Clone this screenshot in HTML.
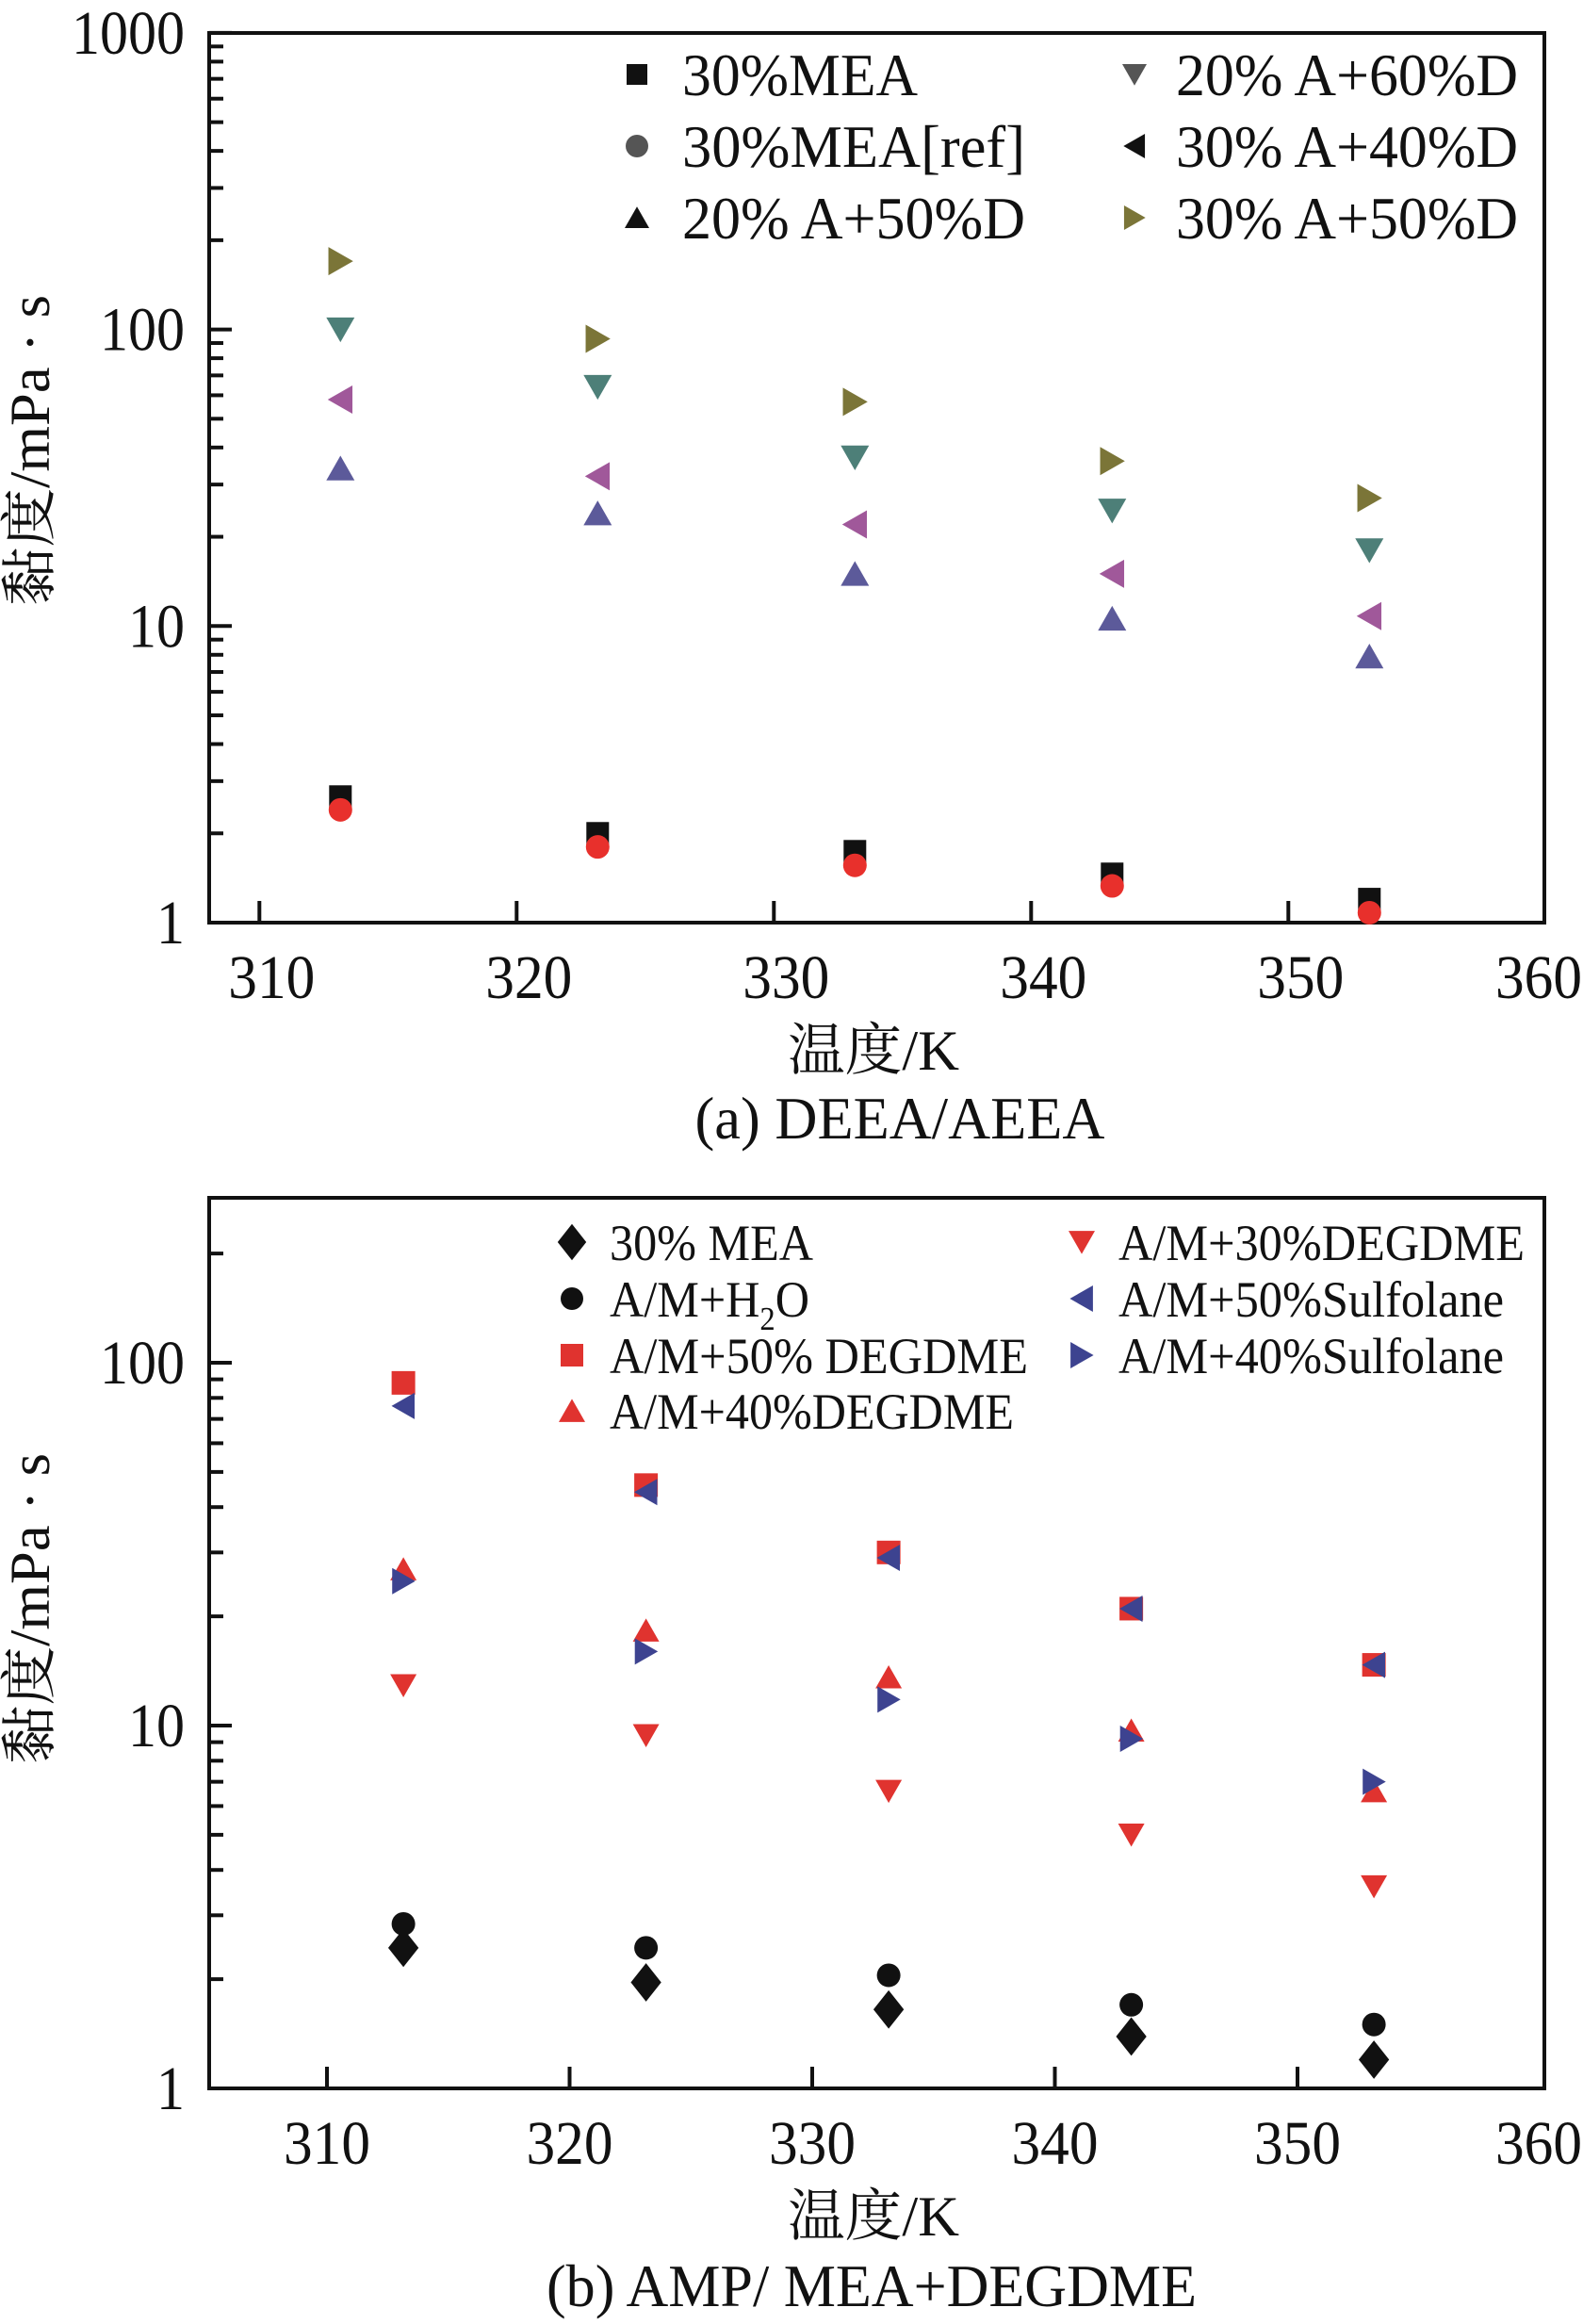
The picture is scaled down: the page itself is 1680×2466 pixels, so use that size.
<!DOCTYPE html>
<html><head><meta charset="utf-8"><style>
html,body{margin:0;padding:0;background:#fff;}
svg{display:block;}
text{font-family:"Liberation Serif","Noto Serif CJK SC","Noto Sans CJK SC",serif;fill:#111;}
</style></head><body>
<svg id="chart" width="1680" height="2466" viewBox="0 0 1680 2466" xmlns="http://www.w3.org/2000/svg"></svg>
<script>
// ---- Data: panel (a) ----
const tempsA = [313.15, 323.15, 333.15, 343.15, 353.15];
const a_mea = [2.66, 2.0, 1.74, 1.46, 1.2];
const a_meaRef = [2.4, 1.8, 1.56, 1.33, 1.08];
const a_20A50D = [34, 24, 15, 10.6, 7.9];
const a_20A60D = [100, 64, 37, 24.5, 18];
const a_30A40D = [58, 32, 22, 15, 10.8];
const a_30A50D = [170, 93, 57, 36, 27];
const xTicksA = [310, 320, 330, 340, 350, 360];
const yTicksA = [1, 10, 100, 1000];
// ---- Data: panel (b) ----
const tempsB = [313.15, 323.15, 333.15, 343.15, 353.15];
const b_mea = [2.44, 1.96, 1.65, 1.39, 1.2];
const b_h2o = [2.84, 2.44, 2.05, 1.70, 1.50];
const b_50DEG = [88, 46, 30, 21, 14.7];
const b_40DEG = [27, 18.3, 13.6, 9.7, 6.6];
const b_30DEG = [12.9, 9.4, 6.6, 5.0, 3.6];
const b_50Sul = [76, 44, 29, 21, 14.7];
const b_40Sul = [25, 16, 11.8, 9.2, 7.0];
const xTicksB = [310, 320, 330, 340, 350, 360];
const yTicksB = [1, 10, 100];

const NS = "http://www.w3.org/2000/svg";
const svg = document.getElementById('chart');
function mk(tag, attrs, parent) {
  const e = document.createElementNS(NS, tag);
  for (const k in attrs) e.setAttribute(k, attrs[k]);
  (parent || svg).appendChild(e);
  return e;
}
function txt(str, x, y, size, anchor, parent) {
  const t = mk('text', {x: x, y: y, 'font-size': size, 'text-anchor': anchor || 'middle'}, parent);
  t.textContent = str;
  return t;
}
function marker(shape, cx, cy, s, color, parent) {
  let e;
  const h = s / 2;
  if (shape === 'square') e = mk('rect', {x: cx - h, y: cy - h, width: s, height: s, fill: color}, parent);
  else if (shape === 'circle') e = mk('circle', {cx: cx, cy: cy, r: h, fill: color}, parent);
  else if (shape === 'diamond') e = mk('polygon', {points: `${cx},${cy-h*1.2} ${cx+h*0.95},${cy} ${cx},${cy+h*1.2} ${cx-h*0.95},${cy}`, fill: color}, parent);
  else if (shape === 'up') e = mk('polygon', {points: `${cx-h},${cy+h*0.85} ${cx+h},${cy+h*0.85} ${cx},${cy-h*0.9}`, fill: color}, parent);
  else if (shape === 'down') e = mk('polygon', {points: `${cx-h},${cy-h*0.85} ${cx+h},${cy-h*0.85} ${cx},${cy+h*0.9}`, fill: color}, parent);
  else if (shape === 'left') e = mk('polygon', {points: `${cx+h*0.85},${cy-h} ${cx+h*0.85},${cy+h} ${cx-h*0.9},${cy}`, fill: color}, parent);
  else if (shape === 'right') e = mk('polygon', {points: `${cx-h*0.85},${cy-h} ${cx-h*0.85},${cy+h} ${cx+h*0.9},${cy}`, fill: color}, parent);
  return e;
}

function panel(cfg) {
  const g = mk('g', {});
  
  
  const xS = v => cfg.x0px + (v - cfg.x0val) * cfg.xk;
  const yS = v => cfg.bottom - Math.log10(v) * cfg.dec;
  const ticks = mk('g', {stroke: '#111', 'stroke-width': 4}, g);
  
  
  for (let d = 0; d < cfg.yTicks.length; d++) {
    const base = cfg.yTicks[d];
    mk('line', {x1: cfg.left, x2: cfg.left + 24, y1: yS(base), y2: yS(base)}, ticks);
    for (let m = 2; m <= 9; m++) {
      const y = yS(base * m);
      if (y < cfg.top + 3) continue;
      mk('line', {x1: cfg.left, x2: cfg.left + 15, y1: y, y2: y}, ticks);
    }
  }
  const xt = mk('g', {stroke: '#111', 'stroke-width': 4}, g);
  
  
  cfg.xTicks.forEach(v => {
    const x = xS(v);
    if (x < cfg.right - 12) mk('line', {x1: x, x2: x, y1: cfg.bottom, y2: cfg.bottom - 23}, xt);
  });
  const fr = mk('rect', {x: cfg.left, y: cfg.top, width: cfg.right - cfg.left, height: cfg.bottom - cfg.top, fill: 'none', stroke: '#111', 'stroke-width': 4}, g);
  
  
  cfg.xTicks.forEach(v => {
    const t = txt(String(v), Math.min(xS(v) + cfg.lblOff, 1633), cfg.bottom + 80, 66, 'middle', g);
    t.setAttribute('textLength', 92);
    t.setAttribute('lengthAdjust', 'spacingAndGlyphs');
    
    
  });
  cfg.yTicks.forEach(v => {
    const s = String(v);
    const t = txt(s, 196, yS(v) + 22, 66, 'end', g);
    t.setAttribute('textLength', s.length * 30);
    t.setAttribute('lengthAdjust', 'spacingAndGlyphs');
    
    
  });
  const yt = txt('黏度/mPa · s', 0, 0, 60, 'middle', g);
  yt.setAttribute('transform', `translate(52,${cfg.yTitleY}) rotate(-90)`);
  yt.setAttribute('textLength', 330);
  yt.setAttribute('lengthAdjust', 'spacingAndGlyphs');
  
  
  const xtit = txt('温度/K', 927, cfg.xTitleY, 60, 'middle', g);
  xtit.setAttribute('textLength', 182);
  xtit.setAttribute('lengthAdjust', 'spacingAndGlyphs');
  
  
  const cap = txt(cfg.caption, cfg.capX, cfg.capY, 64, 'middle', g);
  cap.setAttribute('textLength', cfg.capW);
  cap.setAttribute('lengthAdjust', 'spacingAndGlyphs');
  
  
  cfg.series.forEach(s => {
    const sg = mk('g', {}, g);
    
    
    s.vals.forEach((v, i) => {
      const m = marker(s.shape, xS(cfg.temps[i]), yS(v), s.size, s.color, sg);
      
      
    });
  });
  const lg = mk('g', {}, g);
  
  
  cfg.legend.forEach(l => {
    const eg = mk('g', {}, lg);
    
    
    marker(l.shape, l.mx, l.y, l.size, l.color, eg);
    const t = mk('text', {x: l.tx, y: l.y + cfg.legBase, 'font-size': cfg.legFont, 'text-anchor': 'start', textLength: l.w, lengthAdjust: 'spacingAndGlyphs'}, eg);
    if (l.sub) {
      t.appendChild(document.createTextNode('A/M+H'));
      const ts = mk('tspan', {'font-size': cfg.legFont * 0.65, dy: 14}, t);
      ts.textContent = '2';
      const ts2 = mk('tspan', {dy: -14}, t);
      ts2.textContent = 'O';
    } else t.textContent = l.label;
  });
}

const olive = '#7b7538', teal = '#4d7f78', pink = '#a0589a', peri = '#5c5a9a';
panel({
  name: 'panel-a-deea-aeea', left: 222, right: 1639, top: 35, bottom: 979, dec: 314.7,
  x0px: 275.3, x0val: 310, xk: 27.3, lblOff: 13, xTicks: xTicksA, yTicks: yTicksA, temps: tempsA,
  yTitleY: 478, xTitleY: 1135, capY: 1208, capX: 955, caption: '(a) DEEA/AEEA', capW: 435,
  legFont: 64, legBase: 22,
  series: [
    {key: 'series-30-a-50-d', vals: a_30A50D, shape: 'right', size: 30, color: olive},
    {key: 'series-20-a-60-d', vals: a_20A60D, shape: 'down', size: 30, color: teal},
    {key: 'series-30-a-40-d', vals: a_30A40D, shape: 'left', size: 30, color: pink},
    {key: 'series-20-a-50-d', vals: a_20A50D, shape: 'up', size: 30, color: peri},
    {key: 'series-30-mea', vals: a_mea, shape: 'square', size: 24, color: '#111'},
    {key: 'series-30-mea-ref', vals: a_meaRef, shape: 'circle', size: 25, color: '#e8302c'}
  ],
  legend: [
    {label: '30%MEA', shape: 'square', size: 22, color: '#111', mx: 676, tx: 724, y: 79, w: 250},
    {label: '30%MEA[ref]', shape: 'circle', size: 24, color: '#555', mx: 676, tx: 724, y: 155, w: 364},
    {label: '20% A+50%D', shape: 'up', size: 26, color: '#111', mx: 676, tx: 724, y: 231, w: 364},
    {label: '20% A+60%D', shape: 'down', size: 26, color: '#555', mx: 1204, tx: 1248, y: 79, w: 363},
    {label: '30% A+40%D', shape: 'left', size: 26, color: '#111', mx: 1204, tx: 1248, y: 155, w: 363},
    {label: '30% A+50%D', shape: 'right', size: 26, color: olive, mx: 1204, tx: 1248, y: 231, w: 363}
  ]
});

const red = '#e0332f', blue = '#3d4390';
panel({
  name: 'panel-b-amp-mea-degdme', left: 222, right: 1639, top: 1271, bottom: 2216, dec: 385,
  x0px: 347, x0val: 310, xk: 25.75, lblOff: 0, xTicks: xTicksB, yTicks: yTicksB, temps: tempsB,
  yTitleY: 1707, xTitleY: 2372, capY: 2447, capX: 925, caption: '(b) AMP/ MEA+DEGDME', capW: 690,
  legFont: 54, legBase: 19,
  series: [
    {key: 'series-50-degdme', vals: b_50DEG, shape: 'square', size: 25, color: red},
    {key: 'series-50-sulfolane', vals: b_50Sul, shape: 'left', size: 28, color: blue},
    {key: 'series-40-degdme', vals: b_40DEG, shape: 'up', size: 28, color: red},
    {key: 'series-40-sulfolane', vals: b_40Sul, shape: 'right', size: 28, color: blue},
    {key: 'series-30-degdme', vals: b_30DEG, shape: 'down', size: 28, color: red},
    {key: 'series-h2o', vals: b_h2o, shape: 'circle', size: 25, color: '#111'},
    {key: 'series-30-mea', vals: b_mea, shape: 'diamond', size: 34, color: '#111'}
  ],
  legend: [
    {label: '30% MEA', shape: 'diamond', size: 32, color: '#111', mx: 607, tx: 647, y: 1318, w: 216},
    {label: 'A/M+H2O', sub: true, shape: 'circle', size: 24, color: '#111', mx: 607, tx: 647, y: 1378, w: 212},
    {label: 'A/M+50% DEGDME', shape: 'square', size: 24, color: red, mx: 607, tx: 647, y: 1438, w: 444},
    {label: 'A/M+40%DEGDME', shape: 'up', size: 28, color: red, mx: 607, tx: 647, y: 1497, w: 429},
    {label: 'A/M+30%DEGDME', shape: 'down', size: 28, color: red, mx: 1148, tx: 1187, y: 1318, w: 431},
    {label: 'A/M+50%Sulfolane', shape: 'left', size: 28, color: blue, mx: 1148, tx: 1187, y: 1378, w: 409},
    {label: 'A/M+40%Sulfolane', shape: 'right', size: 28, color: blue, mx: 1148, tx: 1187, y: 1438, w: 409}
  ]
});
</script>
</body></html>
